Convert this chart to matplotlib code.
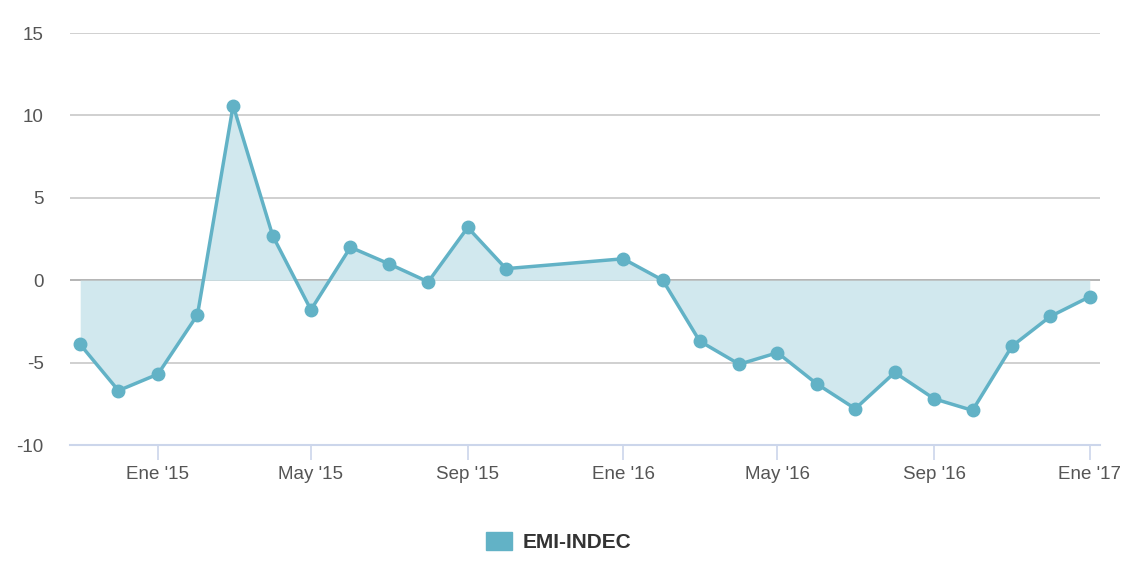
import matplotlib
matplotlib.use('Agg')
import matplotlib.pyplot as plt
import matplotlib.patches as mpatches
import pandas as pd

plt.rcParams['font.family'] = ['Liberation Sans', 'DejaVu Sans']

# monthly series (Oct-Dec 2015 missing)
dates = ['2014-11-01', '2014-12-01', '2015-01-01', '2015-02-01', '2015-03-01',
         '2015-04-01', '2015-05-01', '2015-06-01', '2015-07-01', '2015-08-01',
         '2015-09-01', '2015-10-01', '2016-01-01', '2016-02-01', '2016-03-01',
         '2016-04-01', '2016-05-01', '2016-06-01', '2016-07-01', '2016-08-01',
         '2016-09-01', '2016-10-01', '2016-11-01', '2016-12-01', '2017-01-01']
values = [-3.9, -6.7, -5.7, -2.1, 10.6, 2.7, -1.8, 2.0, 1.0, -0.1,
          3.2, 0.7, 1.3, 0.0, -3.7, -5.1, -4.4, -6.3, -7.8, -5.6,
          -7.2, -7.9, -4.0, -2.2, -1.0]
series_name = 'EMI-INDEC'
tick_dates = ['2015-01-01', '2015-05-01', '2015-09-01', '2016-01-01',
              '2016-05-01', '2016-09-01', '2017-01-01']
tick_labels = ["Ene '15", "May '15", "Sep '15", "Ene '16",
               "May '16", "Sep '16", "Ene '17"]
y_ticks = [-10, -5, 0, 5, 10, 15]

x = pd.to_datetime(dates)
line_color = '#62b2c6'
fill_color = '#d1e8ee'

fig = plt.figure(figsize=(11.45, 5.65), dpi=100)
ax = fig.add_axes([70 / 1145, 120 / 565, 1030 / 1145, 412 / 565])

ax.fill_between(x, values, 0, color=fill_color, zorder=1, linewidth=0)
ax.plot(x, values, color=line_color, linewidth=2.5, marker='o',
        markersize=9, zorder=3)

ax.set_ylim(-10, 15)
ax.set_xlim(pd.Timestamp('2014-10-24'), pd.Timestamp('2017-01-09'))
ax.set_yticks(y_ticks)
ax.set_yticklabels([str(v) for v in y_ticks])
for v in y_ticks[1:]:
    ax.axhline(v, color='#c8c8c8' if v != 0 else '#a8a8a8', linewidth=1.2, zorder=0)

ax.set_xticks(pd.to_datetime(tick_dates))
ax.set_xticklabels(tick_labels)

for s in ['top', 'right', 'left']:
    ax.spines[s].set_visible(False)
ax.spines['bottom'].set_color('#ccd6eb')
ax.spines['bottom'].set_linewidth(1.5)

ax.tick_params(axis='y', length=0, pad=19, labelsize=13.5, labelcolor='#555555')
ax.tick_params(axis='x', length=11, width=1.2, color='#ccd6eb', pad=4,
               labelsize=13.5, labelcolor='#555555')

handle = mpatches.Patch(color=line_color, label=series_name)
fig.legend(handles=[handle], loc='center', bbox_to_anchor=(559 / 1145, 1 - 542 / 565),
           frameon=False, prop={'weight': 'bold', 'size': 15},
           handlelength=1.25, handleheight=0.95, handletextpad=0.5,
           labelcolor='#333333')

fig.savefig('out.png', dpi=100)
